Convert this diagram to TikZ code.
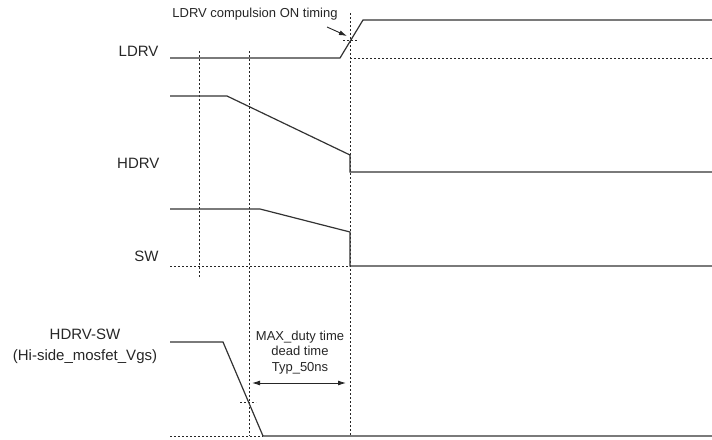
\documentclass[tikz,border=0pt]{standalone}
\usepackage{fontspec}
\setmainfont{Liberation Sans}
\usetikzlibrary{arrows.meta}
\begin{document}
\begin{tikzpicture}[x=1pt, y=-1pt,
  sig/.style={line width=1.2pt, draw=black!80},
  guide/.style={line width=0.8pt, draw=black!85, dash pattern=on 2pt off 2pt},
  lbl/.style={font=\fontsize{15}{21}\selectfont, text=black!85},
  note/.style={font=\fontsize{13}{15.5}\selectfont, text=black!85, align=center},
  tip/.style={-{Latex[length=8pt,width=5pt]}, line width=0.9pt, draw=black!85}]
  \useasboundingbox (0,0) rectangle (712,439);
  % signal names
  \node [lbl, anchor=east] (ldrv) at (162,51) {LDRV};
  \node [lbl, anchor=east] (hdrv) at (163,163) {HDRV};
  \node [lbl, anchor=east] (sw) at (162,256) {SW};
  \node [lbl, align=center] (vgs) at (85,346.5) {HDRV-SW\\(Hi-side\_mosfet\_Vgs)};
  % timing guides
  \draw [guide] (199,51) -- (199,277);
  \draw [guide] (249,51) -- (249,436);
  \draw [guide] (350,13) -- (350,436);
  \draw [guide] (350,58) -- (712,58);
  \draw [guide] (170,266) -- (350,266);
  \draw [guide] (170,436) -- (263,436);
  \draw [guide] (343,40) -- (357,40);
  \draw [guide] (240,402) -- (256,402);
  % waveforms
  \draw [sig] (170,58) -- (340,58) -- (363,20) -- (712,20);
  \draw [sig] (170,96) -- (227,96) -- (350,155) -- (350,172) -- (712,172);
  \draw [sig] (170,209) -- (260,209) -- (350,232) -- (350,266) -- (712,266);
  \draw [sig] (170,342) -- (223,342) -- (263,436) -- (712,436);
  % compulsion point
  \node [note] (ontime) at (255,14) {LDRV compulsion ON timing};
  \coordinate (tail) at (327,27);
  \coordinate (cross) at (347,36);
  \draw [tip] (tail) -- (cross);
  % dead time
  \node [note] (dead) at (300,352.5) {MAX\_duty time\\dead time\\Typ\_50ns};
  \coordinate (dl) at (252,383);
  \coordinate (dr) at (346,383);
  \draw [tip, {Latex[length=8pt,width=5pt]}-{Latex[length=8pt,width=5pt]}] (dl) -- (dr);
\end{tikzpicture}
\end{document}
